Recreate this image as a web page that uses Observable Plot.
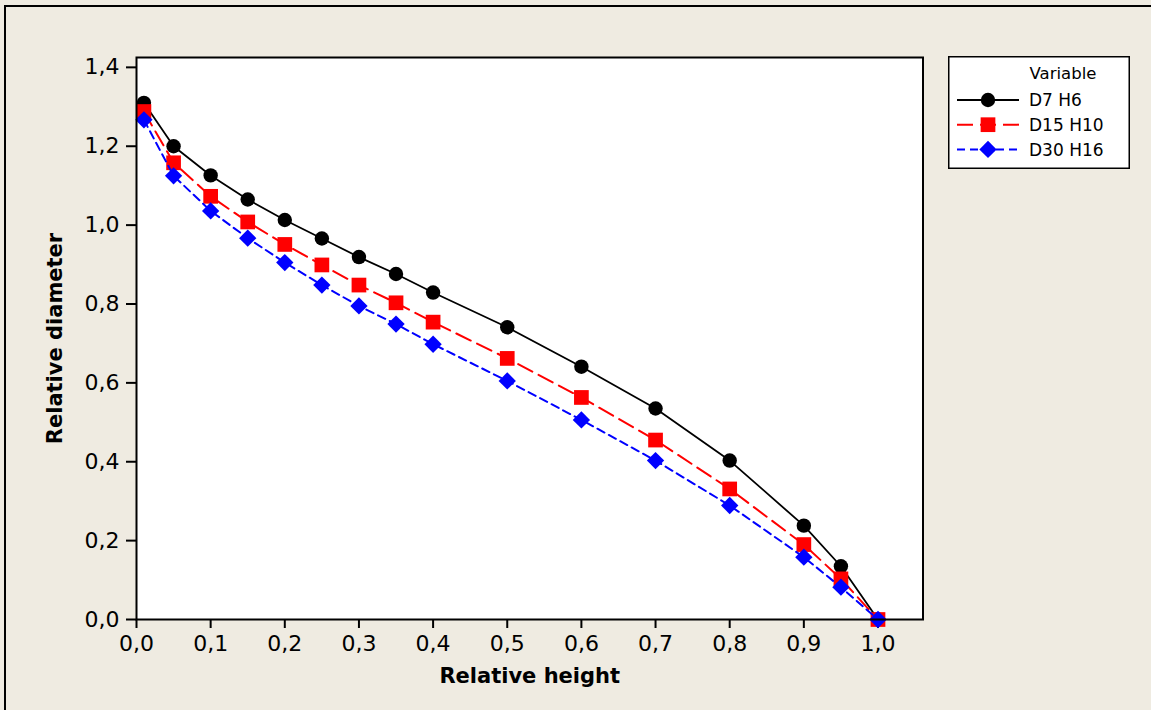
<!DOCTYPE html>
<html>
<head>
<meta charset="utf-8">
<script src="https://cdn.jsdelivr.net/npm/d3@7"></script>
<script src="https://cdn.jsdelivr.net/npm/@observablehq/plot@0.6"></script>
<style>
  html, body { margin: 0; padding: 0; background: #EFEBE1; overflow: hidden; }
  #wrap { position: relative; width: 1151px; height: 710px; }
  #outer { position: absolute; left: 4px; top: 5px; width: 2000px; height: 2000px;
           border-top: 2px solid #000; border-left: 2px solid #000; box-sizing: border-box; }
  #chart { position: absolute; left: 0; top: 0; }
  #legend { position: absolute; left: 948px; top: 56px; }
</style>
</head>
<body>
<div id="wrap">
  <div id="outer"></div>
  <div id="chart"></div>
  <div id="legend"></div>
</div>
<script>
// ---- data ----
const heights = [0.01, 0.05, 0.1, 0.15, 0.2, 0.25, 0.3, 0.35, 0.4, 0.5, 0.6, 0.7, 0.8, 0.9, 0.95, 1.0];
const seriesNames = ["D7 H6", "D15 H10", "D30 H16"];
const d7h6   = [1.310, 1.200, 1.126, 1.065, 1.013, 0.966, 0.919, 0.876, 0.829, 0.741, 0.641, 0.535, 0.403, 0.238, 0.135, 0.0];
const d15h10 = [1.288, 1.158, 1.073, 1.008, 0.951, 0.899, 0.848, 0.803, 0.754, 0.662, 0.563, 0.455, 0.331, 0.190, 0.103, 0.0];
const d30h16 = [1.267, 1.125, 1.036, 0.967, 0.905, 0.848, 0.795, 0.749, 0.698, 0.605, 0.506, 0.403, 0.289, 0.158, 0.082, 0.0];
const xTicks = [0, 0.1, 0.2, 0.3, 0.4, 0.5, 0.6, 0.7, 0.8, 0.9, 1.0];
const yTicks = [0, 0.2, 0.4, 0.6, 0.8, 1.0, 1.2, 1.4];
const xLabel = "Relative height";
const yLabel = "Relative diameter";
const legendTitle = "Variable";

// ---- styles ----
const styles = [
  {color: "#000000", symbol: "circle",   r: 7.2, dash: null,   width: 1.8},
  {color: "#FF0000", symbol: "square",   r: 8.3, dash: "16,7", width: 2},
  {color: "#0000FF", symbol: "diamond2", r: 7.8, dash: "8,5",  width: 2}
];
const values = [d7h6, d15h10, d30h16];
const series = seriesNames.map((name, i) => heights.map((h, j) => ({h, v: values[i][j], name})));

const fmt = d => d.toFixed(1).replace(".", ",");

const marks = [
  Plot.frame({fill: "white"}),
  Plot.axisX({ticks: xTicks, tickFormat: fmt, tickSize: 9, tickPadding: 7, label: null, fontSize: 22, strokeWidth: 2}),
  Plot.axisY({ticks: yTicks, tickFormat: fmt, tickSize: 10, tickPadding: 7, label: null, fontSize: 22, strokeWidth: 2}),
];
series.forEach((data, i) => {
  const s = styles[i];
  marks.push(Plot.line(data, {x: "h", y: "v", stroke: s.color, strokeWidth: s.width, strokeDasharray: s.dash || undefined}));
  marks.push(Plot.dot(data, {x: "h", y: "v", symbol: s.symbol, r: s.r, fill: s.color, stroke: "none"}));
});
marks.push(Plot.frame({stroke: "#000", strokeWidth: 2}));
marks.push(Plot.text([xLabel], {text: d => d, frameAnchor: "bottom", textAnchor: "middle", lineAnchor: "middle", dy: 57, fontSize: 21, fontWeight: "bold", fill: "#000"}));
marks.push(Plot.text([yLabel], {text: d => d, frameAnchor: "left", textAnchor: "middle", lineAnchor: "middle", dx: -81, rotate: -90, fontSize: 21, fontWeight: "bold", fill: "#000"}));

const chart = Plot.plot({
  width: 1151,
  height: 710,
  marginLeft: 136,
  marginRight: 228.5,
  marginTop: 57,
  marginBottom: 91,
  x: {domain: [0, 1.0607]},
  y: {domain: [0, 1.425]},
  style: {fontFamily: "DejaVu Sans", fontSize: "22px", background: "transparent", color: "#000", overflow: "visible"},
  marks
});
document.getElementById("chart").appendChild(chart);

// ---- legend ----
const lw = 182, lh = 113;
const svg = d3.select("#legend").append("svg").attr("width", lw).attr("height", lh)
  .style("font-family", "DejaVu Sans");
svg.append("rect").attr("x", 0.75).attr("y", 0.75).attr("width", lw - 1.5).attr("height", lh - 1.5)
  .attr("fill", "white").attr("stroke", "#000").attr("stroke-width", 1.5);
svg.append("text").attr("x", 115).attr("y", 23).attr("text-anchor", "middle")
  .attr("font-size", 16.5).attr("fill", "#000").text(legendTitle);
const symMap = {circle: d3.symbolCircle, square: d3.symbolSquare, diamond2: d3.symbolDiamond2};
seriesNames.forEach((name, i) => {
  const s = styles[i];
  const y = 44 + i * 24.7;
  svg.append("line").attr("x1", 9).attr("x2", 71).attr("y1", y).attr("y2", y)
    .attr("stroke", s.color).attr("stroke-width", s.width)
    .attr("stroke-dasharray", s.dash || null);
  svg.append("path").attr("transform", `translate(40,${y})`)
    .attr("d", d3.symbol(symMap[s.symbol], Math.PI * s.r * s.r)())
    .attr("fill", s.color);
  svg.append("text").attr("x", 81).attr("y", y).attr("dy", "0.36em")
    .attr("font-size", 17).attr("fill", "#000").text(name);
});
</script>
</body>
</html>
